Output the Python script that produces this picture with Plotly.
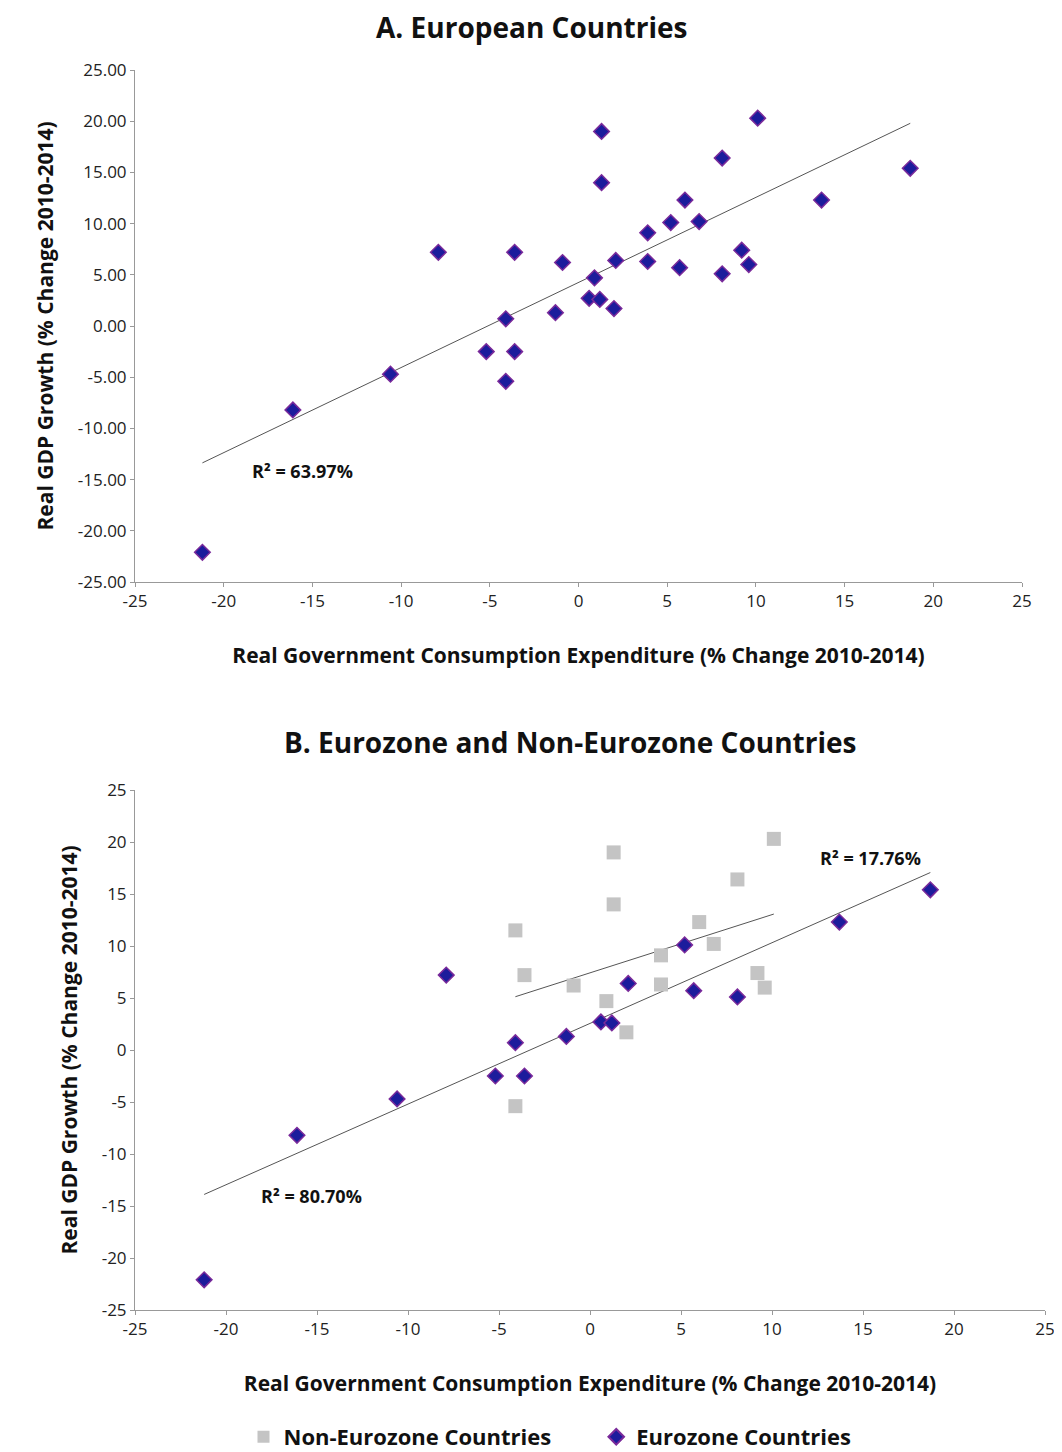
import numpy as np
import plotly.graph_objects as go

# Panel A: all European countries
a_x = [-21.2,-16.1,-10.6,-7.9,-5.2,-4.1,-4.1,-3.6,-3.6,-1.3,-0.9,0.6,0.9,1.2,1.3,1.3,2.0,2.1,3.9,3.9,5.2,5.7,6.0,6.8,8.1,8.1,9.2,9.6,10.1,13.7,18.7]
a_y = [-22.1,-8.2,-4.7,7.2,-2.5,0.7,-5.4,-2.5,7.2,1.3,6.2,2.7,4.7,2.6,19.0,14.0,1.7,6.4,9.1,6.3,10.1,5.7,12.3,10.2,16.4,5.1,7.4,6.0,20.3,12.3,15.4]

# Panel B
non_x = [-4.1,-3.6,-4.1,-0.9,0.9,1.3,1.3,2.0,3.9,3.9,6.0,6.8,8.1,9.2,9.6,10.1]
non_y = [11.5,7.2,-5.4,6.2,4.7,19.0,14.0,1.7,9.1,6.3,12.3,10.2,16.4,7.4,6.0,20.3]
eur_x = [-21.2,-16.1,-10.6,-7.9,-5.2,-4.1,-3.6,-1.3,0.6,1.2,2.1,5.2,5.7,8.1,13.7,18.7]
eur_y = [-22.1,-8.2,-4.7,7.2,-2.5,0.7,-2.5,1.3,2.7,2.6,6.4,10.1,5.7,5.1,12.3,15.4]

ticks = [-25,-20,-15,-10,-5,0,5,10,15,20,25]

W, H = 1054, 1444
L, T, R, B = 127, 62, 17, 142
def px(x): return (x - 135) / (1045 - 135)
def py(y): return (1310 - y) / (1310 - 70)

fig = go.Figure()
diamond = dict(symbol="diamond", size=12, color="#1c1c9c", line=dict(color="#7a2a9a", width=1.5))
square = dict(symbol="square", size=14, color="#c4c4c4", line=dict(width=0))

def trend(x, y, xa, ya):
    m, c = np.polyfit(x, y, 1)
    xs = np.array([min(x), max(x)])
    fig.add_trace(go.Scatter(x=xs, y=m*xs+c, mode="lines", line=dict(color="#555", width=1),
                             showlegend=False, xaxis=xa, yaxis=ya, hoverinfo="skip"))

trend(a_x, a_y, "x", "y")
fig.add_trace(go.Scatter(x=a_x, y=a_y, mode="markers", marker=diamond, showlegend=False, xaxis="x", yaxis="y"))
trend(non_x, non_y, "x2", "y2")
trend(eur_x, eur_y, "x2", "y2")
fig.add_trace(go.Scatter(x=non_x, y=non_y, mode="markers", marker=square, name="<b>Non-Eurozone Countries</b>       ", xaxis="x2", yaxis="y2"))
fig.add_trace(go.Scatter(x=eur_x, y=eur_y, mode="markers", marker=diamond, name="<b>Eurozone Countries</b>", xaxis="x2", yaxis="y2"))

ax = dict(showgrid=False, zeroline=False, showline=True, linecolor="#999", ticks="outside", automargin=False,
          ticklen=4, tickcolor="#999", tickfont=dict(size=17, color="#222"),
          tickvals=ticks, ticktext=[str(t) for t in ticks])
xtitle = dict(text="<b>Real Government Consumption Expenditure (% Change 2010-2014)</b>", font=dict(size=21, color="#111"), standoff=36)
ytitle = dict(text="<b>Real GDP Growth (% Change 2010-2014)</b>", font=dict(size=21, color="#111"), standoff=18)
fig.update_layout(
    width=W, height=H, margin=dict(l=L, r=R, t=T, b=B, autoexpand=False),
    plot_bgcolor="white", paper_bgcolor="white",
    font=dict(family="Open Sans, sans-serif"),
    xaxis=dict(ax, domain=[0, px(1022)], range=[-25, 25], anchor="y", title=xtitle),
    yaxis=dict(ax, domain=[py(582), 1], range=[-25, 25], anchor="x", ticktext=["%.2f" % t for t in ticks],
               title=ytitle),
    xaxis2=dict(ax, domain=[0, 1], range=[-25, 25], anchor="y2", title=xtitle),
    yaxis2=dict(ax, domain=[0, py(790)], range=[-25, 25], anchor="x2", title=ytitle),
    legend=dict(orientation="h", x=px(550), xanchor="center", y=py(1437), yanchor="middle",
                font=dict(size=22, color="#111"), itemsizing="constant"),
    annotations=[
        dict(text="<b>A. European Countries</b>", x=px(531), y=py(27), xref="paper", yref="paper", showarrow=False, font=dict(size=28, color="#111"), xanchor="center", yanchor="middle"),
        dict(text="<b>B. Eurozone and Non-Eurozone Countries</b>", x=px(570), y=py(742), xref="paper", yref="paper", showarrow=False, font=dict(size=28, color="#111"), xanchor="center", yanchor="middle"),
        dict(text="<b>R² = 63.97%</b>", x=-18.5, y=-14.2, xref="x", yref="y", showarrow=False, xanchor="left", font=dict(size=18, color="#111")),
        dict(text="<b>R² = 80.70%</b>", x=-18.2, y=-14, xref="x2", yref="y2", showarrow=False, xanchor="left", font=dict(size=18, color="#111")),
        dict(text="<b>R² = 17.76%</b>", x=12.5, y=18.5, xref="x2", yref="y2", showarrow=False, xanchor="left", font=dict(size=18, color="#111")),
    ],
)
fig.write_html("out.html")
